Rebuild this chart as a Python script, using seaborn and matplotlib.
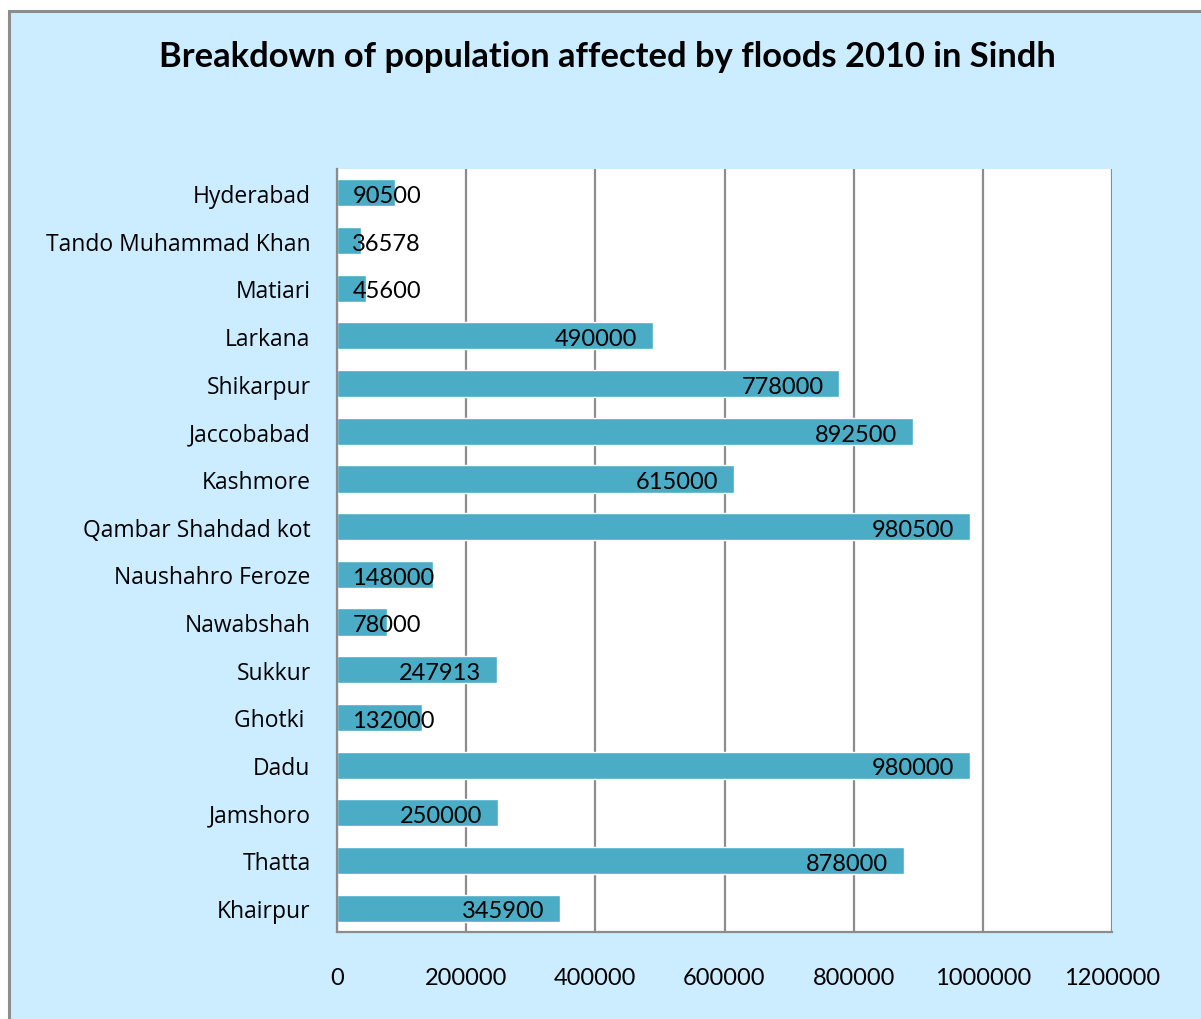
import matplotlib
matplotlib.use('Agg')
import matplotlib.pyplot as plt
from matplotlib.patches import Rectangle
import seaborn as sns

districts = ['Hyderabad', 'Tando Muhammad Khan', 'Matiari', 'Larkana', 'Shikarpur',
             'Jaccobabad', 'Kashmore', 'Qambar Shahdad kot', 'Naushahro Feroze',
             'Nawabshah', 'Sukkur', 'Ghotki ', 'Dadu', 'Jamshoro', 'Thatta', 'Khairpur']
affected = [90500, 36578, 45600, 490000, 778000, 892500, 615000, 980500, 148000,
            78000, 247913, 132000, 980000, 250000, 878000, 345900]
x_ticks = [0, 200000, 400000, 600000, 800000, 1000000, 1200000]

sns.set_style('white')
plt.rcParams['font.family'] = ['Open Sans', 'DejaVu Sans']
plt.rcParams['text.color'] = 'black'
plt.rcParams['xtick.color'] = 'black'
plt.rcParams['ytick.color'] = 'black'

bg = '#CCECFF'
fig = plt.figure(figsize=(12.01, 10.2), dpi=100)
fig.patch.set_facecolor('white')
# chart area with grey frame (right/bottom edges run off the picture)
fig.patches.append(Rectangle((9 / 1201, -0.05), 1.1, (1020 - 12) / 1020 + 0.05,
                             transform=fig.transFigure, facecolor=bg,
                             edgecolor='#8C8C8C', linewidth=2.2, zorder=-5))

ax = fig.add_axes([337 / 1201, 87 / 1020, 775 / 1201, 763 / 1020])
ax.set_facecolor('white')
sns.barplot(x=affected, y=districts, orient='h', color='#4BACC6', width=0.57,
            saturation=1, ax=ax, zorder=2)

ax.set_xlim(0, 1200000)
ax.set_xticks(x_ticks)
ax.set_xticklabels([str(t) for t in x_ticks], fontfamily='Lato', fontsize=17)
ax.xaxis.grid(True, color='#8C8C8C', linewidth=1.6, zorder=1)
ax.set_axisbelow(True)
ax.tick_params(axis='x', length=0, pad=25)
ax.tick_params(axis='y', length=0, pad=19, labelsize=16.5)
for s in ['top', 'right']:
    ax.spines[s].set_visible(False)
for s in ['left', 'bottom']:
    ax.spines[s].set_color('#8C8C8C')
    ax.spines[s].set_linewidth(1.6)
ax.set_xlabel('')
ax.set_ylabel('')

fig.text(607 / 1201, 1 - 57 / 1020, 'Breakdown of population affected by floods 2010 in Sindh',
         ha='center', va='center', fontsize=24.8, fontweight='bold', fontfamily='Lato')

# data labels: inside end, but kept clear of the axis for short bars
fig.canvas.draw()
r = fig.canvas.get_renderer()
x0 = ax.transData.transform((0, 0))[0]
for i, v in enumerate(affected):
    t = ax.annotate(str(v), (v, i), xytext=(-11.5, -2), textcoords='offset points',
                    ha='right', va='center', fontsize=17, fontfamily='Lato', zorder=3)
    bb = t.get_window_extent(r)
    if bb.x0 < x0 + 15:
        t.remove()
        ax.annotate(str(v), (0, i), xytext=(11, -2), textcoords='offset points',
                    ha='left', va='center', fontsize=17, fontfamily='Lato', zorder=3)

fig.savefig('out.png', dpi=100, facecolor=fig.get_facecolor())
